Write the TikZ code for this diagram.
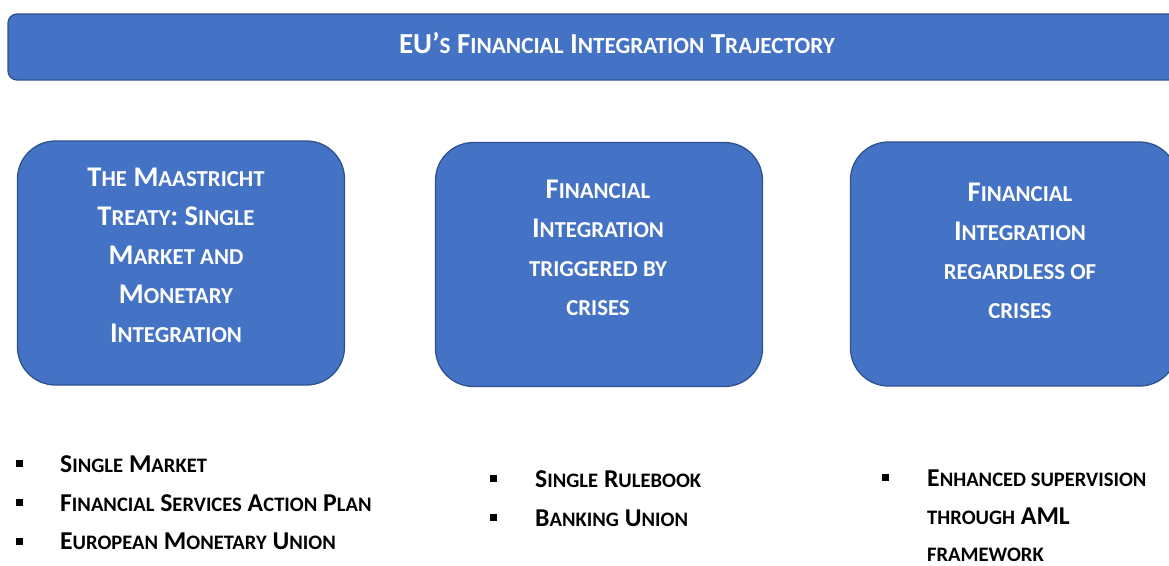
\documentclass[tikz,border=0pt]{standalone}
\usepackage{fontspec}
\setmainfont{Carlito}
\newfontfamily\smallcapfont[Scale=0.8]{Carlito}
\newcommand{\sm}[1]{{\smallcapfont\bfseries #1}}
\usetikzlibrary{positioning}
\definecolor{trackblue}{HTML}{4472C4}
\definecolor{trackedge}{HTML}{2F528F}
\tikzset{
  banner/.style={draw=trackedge,fill=trackblue,line width=1.3pt,rounded corners=9pt,
    minimum width=1218pt,minimum height=66pt,inner sep=0pt,text=white,
    text height=20pt,text depth=7pt,font=\bfseries\fontsize{29}{34}\selectfont},
  stagebox/.style={draw=trackedge,fill=trackblue,line width=1.3pt,rounded corners=38pt,
    minimum width=327pt,minimum height=244pt,inner sep=0pt},
  stagetext/.style={text=white,align=center,inner sep=0pt,
    font=\bfseries\fontsize{28.5}{39}\selectfont},
  square/.style={fill=black,minimum size=7pt,inner sep=0pt},
  point/.style={anchor=base west,inner sep=0pt,align=left,
    font=\bfseries\fontsize{25.7}{37.5}\selectfont}
}

\begin{document}
\begin{tikzpicture}[x=1pt,y=1pt,yscale=-1,xscale=1]
\useasboundingbox (0,0) rectangle (1169,565);
\clip (0,0) rectangle (1169,565);

%Shape: Banner
\node[banner] (title) at (617,47) {EU’\sm{S} F\sm{INANCIAL} I\sm{NTEGRATION} T\sm{RAJECTORY}};

%Shape: Rounded Rect
\node[stagebox] (maastricht) at (181,263) {};
%Shape: Rounded Rect
\node[stagebox] (crises) at (599,264.5) {};
%Shape: Rounded Rect
\node[stagebox] (regardless) at (1014,264) {};

% Text Node
\node[stagetext] (maastrichttext) at (176,255) {T\sm{HE} M\sm{AASTRICHT}\\T\sm{REATY}: S\sm{INGLE}\\M\sm{ARKET AND}\\M\sm{ONETARY}\\I\sm{NTEGRATION}};
% Text Node
\node[stagetext] (crisestext) at (598,248) {F\sm{INANCIAL}\\I\sm{NTEGRATION}\\\sm{TRIGGERED BY}\\\sm{CRISES}};
% Text Node
\node[stagetext] (regardlesstext) at (1020,251) {F\sm{INANCIAL}\\I\sm{NTEGRATION}\\\sm{REGARDLESS OF}\\\sm{CRISES}};

% Bullets: first column
\node[point] (market) at (60,472) {S\sm{INGLE} M\sm{ARKET}};
\node[point] (fsap) at (60,511) {F\sm{INANCIAL} S\sm{ERVICES} A\sm{CTION} P\sm{LAN}};
\node[point] (emu) at (60,549.5) {E\sm{UROPEAN} M\sm{ONETARY} U\sm{NION}};
\node[square] (sqmarket) at (19,463.5) {};
\node[square] (sqfsap) at (19,502.5) {};
\node[square] (sqemu) at (19,541.5) {};

% Bullets: second column
\node[point] (rulebook) at (535,487) {S\sm{INGLE} R\sm{ULEBOOK}};
\node[point] (banking) at (535,526) {B\sm{ANKING} U\sm{NION}};
\node[square] (sqrulebook) at (493.5,478.5) {};
\node[square] (sqbanking) at (493.5,517.5) {};

% Bullets: third column (anchored at its last line)
\node[point] (aml) at (927,561.5) {E\sm{NHANCED SUPERVISION}\\\sm{THROUGH} AML\\\sm{FRAMEWORK}};
\node[square] (sqaml) at (885.5,477) {};

\end{tikzpicture}
\end{document}
